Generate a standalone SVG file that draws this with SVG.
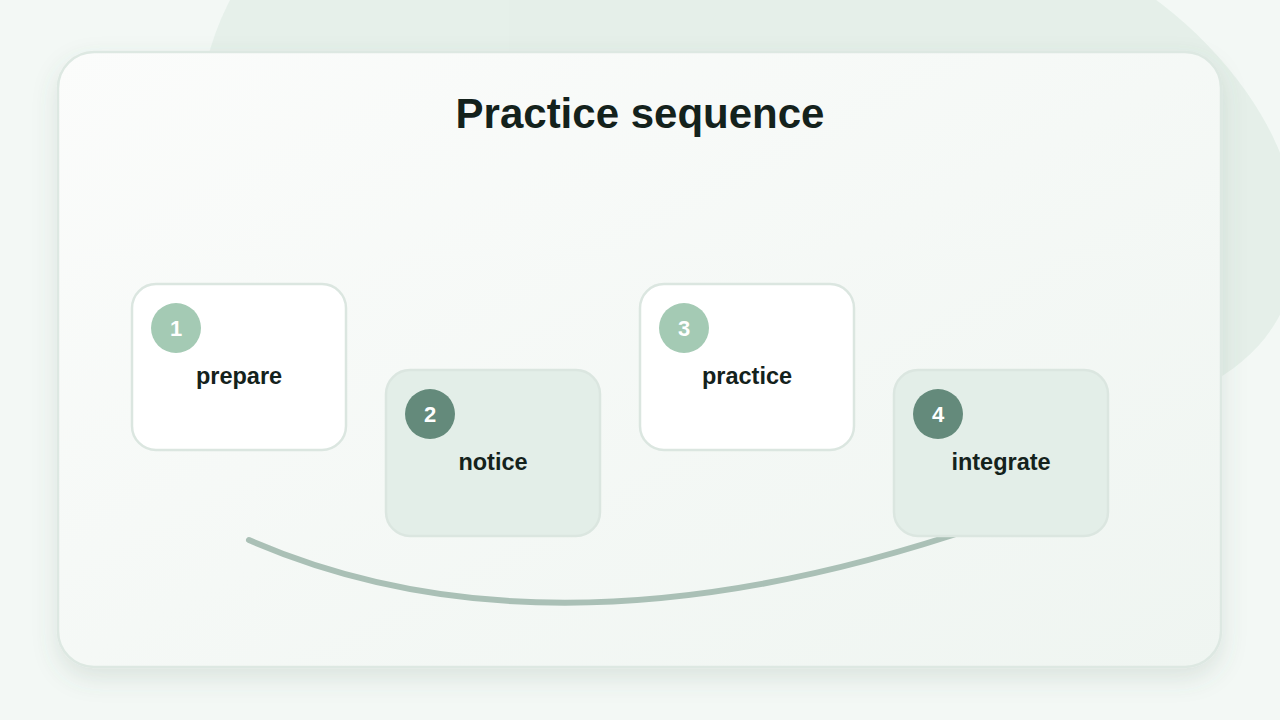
<svg xmlns="http://www.w3.org/2000/svg" width="1280" height="720" viewBox="0 0 1280 720">
<defs>
<style>
.node{stroke:#dbe6e0;stroke-width:2.5}
.w{fill:#ffffff}.g{fill:#e3eee8}
.lbl{font-family:"Liberation Sans",Arial,sans-serif;font-weight:bold;font-size:23.5px;fill:#14221c;text-anchor:middle}
.num{font-family:"Liberation Sans",Arial,sans-serif;font-weight:bold;font-size:22px;fill:#ffffff;text-anchor:middle}
.c1{fill:#a4cab4}.c2{fill:#648a7b}
</style>
<linearGradient id="card" x1="0" y1="0" x2="1" y2="1">
<stop offset="0" stop-color="#fbfcfb"/><stop offset="1" stop-color="#eff5f1"/>
</linearGradient>
<filter id="sh" x="-10%" y="-10%" width="120%" height="130%"><feDropShadow dx="0" dy="10" stdDeviation="12" flood-color="#4a6a5a" flood-opacity="0.15"/></filter>
</defs>
<rect width="1280" height="720" fill="#f3f8f5"/>
<g fill="#e2eee7" opacity="0.8">
<ellipse cx="560" cy="120" rx="360" ry="300"/>
<ellipse cx="1000" cy="160" rx="320" ry="220" transform="rotate(30 1000 160)"/>
</g>
<rect x="58" y="52" width="1163" height="615" rx="36" fill="url(#card)" stroke="#dde8e2" stroke-width="2.5" filter="url(#sh)"/>
<text x="640" y="128" font-family="'Liberation Sans',Arial,sans-serif" font-weight="bold" font-size="42" fill="#14221c" text-anchor="middle">Practice sequence</text>
<g id="connectors">
<path d="M249,540 Q552,672 980,526" fill="none" stroke="#aac0b6" stroke-width="6" stroke-linecap="round"/>
</g>
<g id="node1"><rect class="node w" x="132" y="284" width="214" height="166" rx="24"/><circle class="c1" cx="176" cy="328" r="25"/><text class="num" x="176" y="336">1</text><text class="lbl" x="239" y="384">prepare</text></g>
<g id="node2"><rect class="node g" x="386" y="370" width="214" height="166" rx="24"/><circle class="c2" cx="430" cy="414" r="25"/><text class="num" x="430" y="422">2</text><text class="lbl" x="493" y="470">notice</text></g>
<g id="node3"><rect class="node w" x="640" y="284" width="214" height="166" rx="24"/><circle class="c1" cx="684" cy="328" r="25"/><text class="num" x="684" y="336">3</text><text class="lbl" x="747" y="384">practice</text></g>
<g id="node4"><rect class="node g" x="894" y="370" width="214" height="166" rx="24"/><circle class="c2" cx="938" cy="414" r="25"/><text class="num" x="938" y="422">4</text><text class="lbl" x="1001" y="470">integrate</text></g>
</svg>
